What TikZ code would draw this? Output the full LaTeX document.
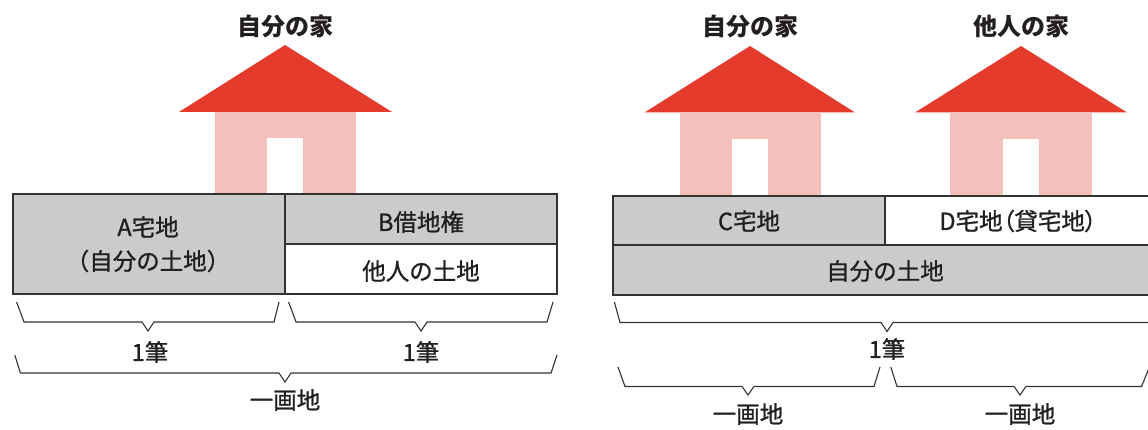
\documentclass[tikz,border=0pt]{standalone}
\usepackage{fontspec}
\setmainfont{Noto Sans CJK JP}
\definecolor{roofred}{HTML}{E53B2C}
\definecolor{wallpink}{HTML}{F5C0BC}
\definecolor{landgray}{HTML}{CBCBCB}
\definecolor{edge}{HTML}{333333}
\definecolor{ink}{HTML}{231F20}
\begin{document}
\begin{tikzpicture}[x=1pt,y=-1pt,
  roof/.style={fill=roofred,draw=none},
  wall/.style={fill=wallpink,draw=none},
  door/.style={fill=white,draw=none},
  cellg/.style={fill=landgray,draw=edge,line width=1.1pt},
  cellw/.style={fill=white,draw=edge,line width=1.1pt},
  lbl/.style={text=ink,font=\fontsize{23.5}{27}\selectfont\addfontfeature{FakeBold=1}\relax,inner sep=0pt},
  ttl/.style={text=ink,font=\fontsize{24}{28}\selectfont\bfseries,inner sep=0pt},
  brace/.style={draw=edge,line width=1.1pt,line join=miter}]
\useasboundingbox (0,0) rectangle (1148,430);
\clip (0,0) rectangle (1148,430);
\fill[white] (0,0) rectangle (1148,430);

% ---------- left panel ----------
\node[ttl] (t1) at (285,26) {自分の家};
\fill[roof] (179,112) -- (285,45) -- (392,112) -- cycle;
\fill[wall] (215,112) rectangle (356,194);
\fill[door] (267,138) rectangle (303,194);
\draw[cellg] (13,194) rectangle (285,294);
\draw[cellg] (285,194) rectangle (557,244);
\draw[cellw] (285,244) rectangle (557,294);
\node[lbl] (a1) at (148,227) {A宅地};
\node[lbl] (a2) at (148,261) {（自分の土地）};
\node[lbl] (b1) at (421,222) {B借地権};
\node[lbl] (b2) at (421,271) {他人の土地};
\draw[brace] (16.6,302) -- (24,322) -- (142,322) -- (148,331) -- (154,322) -- (274,322) -- (279,302);
\draw[brace] (288.6,302) -- (296,322) -- (415,322) -- (421,331) -- (427,322) -- (547,322) -- (553,302);
\node[lbl] (f1) at (150,352) {1筆};
\node[lbl] (f2) at (421,352) {1筆};
\draw[brace] (14.8,355) -- (20.4,373) -- (279,373) -- (285,382) -- (291,373) -- (551,373) -- (557,355);
\node[lbl] (k1) at (285,400) {一画地};

% ---------- right panel ----------
\node[ttl] (t2) at (750,26) {自分の家};
\node[ttl] (t3) at (1021,26) {他人の家};
\fill[roof] (644.5,112.5) -- (750,46) -- (855,112.5) -- cycle;
\fill[wall] (680,112.5) rectangle (821,196);
\fill[door] (732,139) rectangle (768,196);
\fill[roof] (915,112.5) -- (1021,46) -- (1127,112.5) -- cycle;
\fill[wall] (950,112.5) rectangle (1092,196);
\fill[door] (1003,139) rectangle (1039,196);
\draw[cellg] (613,196) rectangle (885,245);
\draw[cellw] (885,196) rectangle (1160,245);
\draw[cellg] (613,245) rectangle (1160,295);
\node[lbl] (c1) at (749,221) {C宅地};
\node[lbl] (d1) at (1018,221) {\addfontfeature{RawFeature=+palt}D宅地（貸宅地）};
\node[lbl] (m1) at (885,271) {自分の土地};
\draw[brace] (614.4,302) -- (620,322.5) -- (881,322.5) -- (887,331.5) -- (893,322.5) -- (1160,322.5);
\node[lbl] (f3) at (887,349) {1筆};
\draw[brace] (618,367) -- (625,386.5) -- (742,386.5) -- (748,395) -- (754,386.5) -- (874,386.5) -- (880,367);
\draw[brace] (890.8,367) -- (897,386.5) -- (1014,386.5) -- (1020,395) -- (1026,386.5) -- (1141.5,386.5) -- (1149.5,367);
\node[lbl] (k2) at (748,414) {一画地};
\node[lbl] (k3) at (1020,414) {一画地};
\end{tikzpicture}
\end{document}
